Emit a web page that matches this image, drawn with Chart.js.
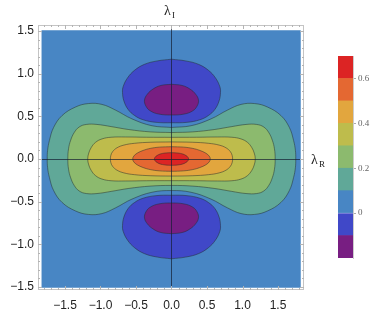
<!DOCTYPE html>
<html>
<head>
<meta charset="utf-8">
<script src="https://cdn.jsdelivr.net/npm/chart.js@4.4.0/dist/chart.umd.min.js"></script>
<style>
  body { margin: 0; background: #fff; }
  #wrap { position: relative; width: 374px; height: 318px; }
  #main { position: absolute; left: 0; top: 0; }
  #bar { position: absolute; left: 330px; top: 40px; }
</style>
</head>
<body>
<div id="wrap">
  <canvas id="main" width="374" height="318"></canvas>
  <canvas id="bar" width="44" height="230"></canvas>
</div>
<script>
// contour levels and the colour of each band between them (lowest first)
const levels = [-0.2, -0.1, 0, 0.1, 0.2, 0.3, 0.4, 0.5, 0.6, 0.7];
const bandColors = ['#781e82', '#4048c8', '#4886c4', '#60a898', '#8cba6e', '#bebc4c', '#e2a63e', '#e46832', '#dc2424'];
const barTicks = [0, 0.2, 0.4, 0.6];

const xTicks = [-1.5, -1, -0.5, 0, 0.5, 1, 1.5];
const yTicks = [-1.5, -1, -0.5, 0, 0.5, 1, 1.5];

// area covered by the plot
const xRange = [-1.83, 1.82];
const yRange = [-1.51, 1.51];

// central contours, first quadrant only: from the y axis round to the x axis
const c01 = [[0, 0.37], [0.275, 0.39], [0.556, 0.47], [0.79, 0.574], [0.98, 0.64], [1.17, 0.65], [1.35, 0.61], [1.54, 0.51], [1.66, 0.37], [1.72, 0.215], [1.745, 0.1], [1.75, 0]];
const c02 = [[0, 0.31], [0.3, 0.318], [0.6, 0.345], [0.85, 0.38], [1.05, 0.405], [1.2, 0.405], [1.3, 0.375], [1.37, 0.31], [1.42, 0.22], [1.45, 0.12], [1.46, 0]];
const c03 = [[0, 0.254], [0.35, 0.255], [0.65, 0.258], [0.85, 0.255], [0.98, 0.235], [1.07, 0.195], [1.13, 0.135], [1.165, 0.07], [1.18, 0]];
const c04 = [[0, 0.2], [0.3, 0.196], [0.52, 0.184], [0.67, 0.163], [0.77, 0.13], [0.83, 0.085], [0.855, 0.04], [0.86, 0]];
const c05 = [[0, 0.144], [0.17, 0.139], [0.3, 0.124], [0.4, 0.1], [0.48, 0.07], [0.53, 0.035], [0.546, 0]];
const c06 = [[0, 0.074], [0.09, 0.07], [0.16, 0.058], [0.205, 0.04], [0.232, 0.02], [0.24, 0]];

// upper lobes, right half: from the top of the lobe round to its bottom
const lobe00 = [[0, 1.17], [0.2, 1.15], [0.38, 1.11], [0.52, 1.04], [0.62, 0.95], [0.68, 0.85], [0.69, 0.78], [0.67, 0.68], [0.61, 0.58], [0.52, 0.51], [0.4, 0.46], [0.22, 0.43], [0, 0.425]];
const lobe01 = [[0, 0.876], [0.15, 0.862], [0.26, 0.82], [0.34, 0.76], [0.38, 0.69], [0.36, 0.62], [0.3, 0.565], [0.18, 0.527], [0, 0.516]];

// the picture is symmetric in both axes, so mirror the quadrant into a closed ring
function ring(q) {
    const pts = q.map(p => ({x: p[0], y: p[1]}));
    q.slice(0, -1).reverse().forEach(p => pts.push({x: p[0], y: -p[1]}));
    q.slice(1).forEach(p => pts.push({x: -p[0], y: -p[1]}));
    q.slice(0, -1).reverse().forEach(p => pts.push({x: -p[0], y: p[1]}));
    return pts;
}

function lobe(h, sign) {
    const pts = h.map(p => ({x: p[0], y: sign * p[1]}));
    h.slice(0, -1).reverse().forEach(p => pts.push({x: -p[0], y: sign * p[1]}));
    return pts;
}

function shape(points, color, tension) {
    return {
        data: points,
        showLine: true,
        fill: 'shape',
        backgroundColor: color,
        borderColor: 'rgba(35,45,45,0.5)',
        borderWidth: tension ? 1 : 0,
        tension: tension,
        pointRadius: 0
    };
}

// bottom layer first
let layers = [
    shape([
        {x: xRange[0], y: yRange[0]}, {x: xRange[1], y: yRange[0]},
        {x: xRange[1], y: yRange[1]}, {x: xRange[0], y: yRange[1]},
        {x: xRange[0], y: yRange[0]}
    ], bandColors[2], 0),
    shape(ring(c01), bandColors[3], 0.4),
    shape(ring(c02), bandColors[4], 0.4),
    shape(ring(c03), bandColors[5], 0.4),
    shape(ring(c04), bandColors[6], 0.4),
    shape(ring(c05), bandColors[7], 0.4),
    shape(ring(c06), bandColors[8], 0.4),
    shape(lobe(lobe00, 1), bandColors[1], 0.4),
    shape(lobe(lobe00, -1), bandColors[1], 0.4),
    shape(lobe(lobe01, 1), bandColors[0], 0.4),
    shape(lobe(lobe01, -1), bandColors[0], 0.4)
];
layers.forEach((d, i) => { d.order = layers.length - i; });

function fmt(v) {
    if (v === 0) return '0.0';
    return (v < 0 ? '\u2212' : '') + Math.abs(v).toFixed(1);
}

const frame = {
    id: 'frame',
    afterDatasetsDraw(chart) {
        const ctx = chart.ctx;
        const a = chart.chartArea;
        const sx = chart.scales.x, sy = chart.scales.y;
        ctx.save();

        // axes through the origin
        ctx.strokeStyle = 'rgba(20,30,50,0.7)';
        ctx.lineWidth = 1;
        const x0 = Math.round(sx.getPixelForValue(0)) + 0.5;
        const y0 = Math.round(sy.getPixelForValue(0)) + 0.5;
        ctx.beginPath();
        ctx.moveTo(x0, a.top); ctx.lineTo(x0, a.bottom);
        ctx.moveTo(a.left, y0); ctx.lineTo(a.right, y0);
        ctx.stroke();

        // frame and inward ticks
        ctx.strokeStyle = '#c4c4c4';
        ctx.strokeRect(a.left + 0.5, a.top + 0.5, a.right - a.left - 1, a.bottom - a.top - 1);
        ctx.strokeStyle = '#b4b4b4';
        ctx.beginPath();
        for (let i = -19; i <= 19; i++) {
            const v = i / 10;
            const len = i % 5 === 0 ? 4 : 2;
            if (v >= sx.min && v <= sx.max) {
                const px = Math.round(sx.getPixelForValue(v)) + 0.5;
                ctx.moveTo(px, a.top); ctx.lineTo(px, a.top + len);
                ctx.moveTo(px, a.bottom); ctx.lineTo(px, a.bottom - len);
            }
            if (v >= sy.min && v <= sy.max) {
                const py = Math.round(sy.getPixelForValue(v)) + 0.5;
                ctx.moveTo(a.left, py); ctx.lineTo(a.left + len, py);
                ctx.moveTo(a.right, py); ctx.lineTo(a.right - len, py);
            }
        }
        ctx.stroke();

        // axis names
        ctx.fillStyle = '#222';
        ctx.textBaseline = 'alphabetic';
        ctx.textAlign = 'left';
        ctx.font = '14px "Liberation Serif"';
        ctx.fillText('\u03bb', 164, 15);
        ctx.fillText('\u03bb', 311, 164);
        ctx.font = '9px "Liberation Serif"';
        ctx.fillText('I', 172, 18);
        ctx.fillText('R', 319, 167);
        ctx.restore();
    }
};

new Chart(document.getElementById('main'), {
    type: 'scatter',
    data: { datasets: layers },
    options: {
        responsive: false,
        animation: false,
        layout: { padding: { left: 0, top: 25, right: 70, bottom: 0 } },
        plugins: { legend: { display: false }, tooltip: { enabled: false } },
        scales: {
            x: {
                type: 'linear', min: -1.88, max: 1.866,
                grid: { display: false, drawTicks: false },
                border: { display: false },
                afterBuildTicks: s => { s.ticks = xTicks.map(v => ({value: v})); },
                afterFit: s => { s.height = 28; },
                ticks: { callback: fmt, color: '#222', padding: 8, maxRotation: 0, autoSkip: false,
                         font: { family: 'Liberation Sans', size: 12 } }
            },
            y: {
                type: 'linear', min: -1.536, max: 1.571,
                grid: { display: false, drawTicks: false },
                border: { display: false },
                afterBuildTicks: s => { s.ticks = yTicks.map(v => ({value: v})); },
                afterFit: s => { s.width = 38; },
                ticks: { callback: fmt, color: '#222', padding: 4, autoSkip: false,
                         font: { family: 'Liberation Sans', size: 12 } }
            }
        }
    },
    plugins: [frame]
});

// colour bar
new Chart(document.getElementById('bar'), {
    type: 'bar',
    data: {
        labels: [''],
        datasets: bandColors.map((c, i) => ({
            data: [[levels[i], levels[i + 1]]],
            backgroundColor: c,
            borderWidth: 0,
            grouped: false,
            barPercentage: 1,
            categoryPercentage: 1
        }))
    },
    options: {
        responsive: false,
        animation: false,
        layout: { padding: { left: 8, top: 16, right: 0, bottom: 12 } },
        plugins: { legend: { display: false }, tooltip: { enabled: false } },
        scales: {
            x: { display: false },
            y: {
                position: 'right', min: levels[0], max: levels[levels.length - 1],
                grid: { drawOnChartArea: false, tickLength: 3, color: '#aaa' },
                border: { display: true, color: '#ccc' },
                afterBuildTicks: s => { s.ticks = barTicks.map(v => ({value: v})); },
                afterFit: s => { s.width = 21; },
                ticks: { callback: v => v === 0 ? '0' : v.toFixed(1), color: '#666', padding: 2,
                         font: { family: 'Liberation Serif', size: 9 } }
            }
        }
    }
});
</script>
</body>
</html>
